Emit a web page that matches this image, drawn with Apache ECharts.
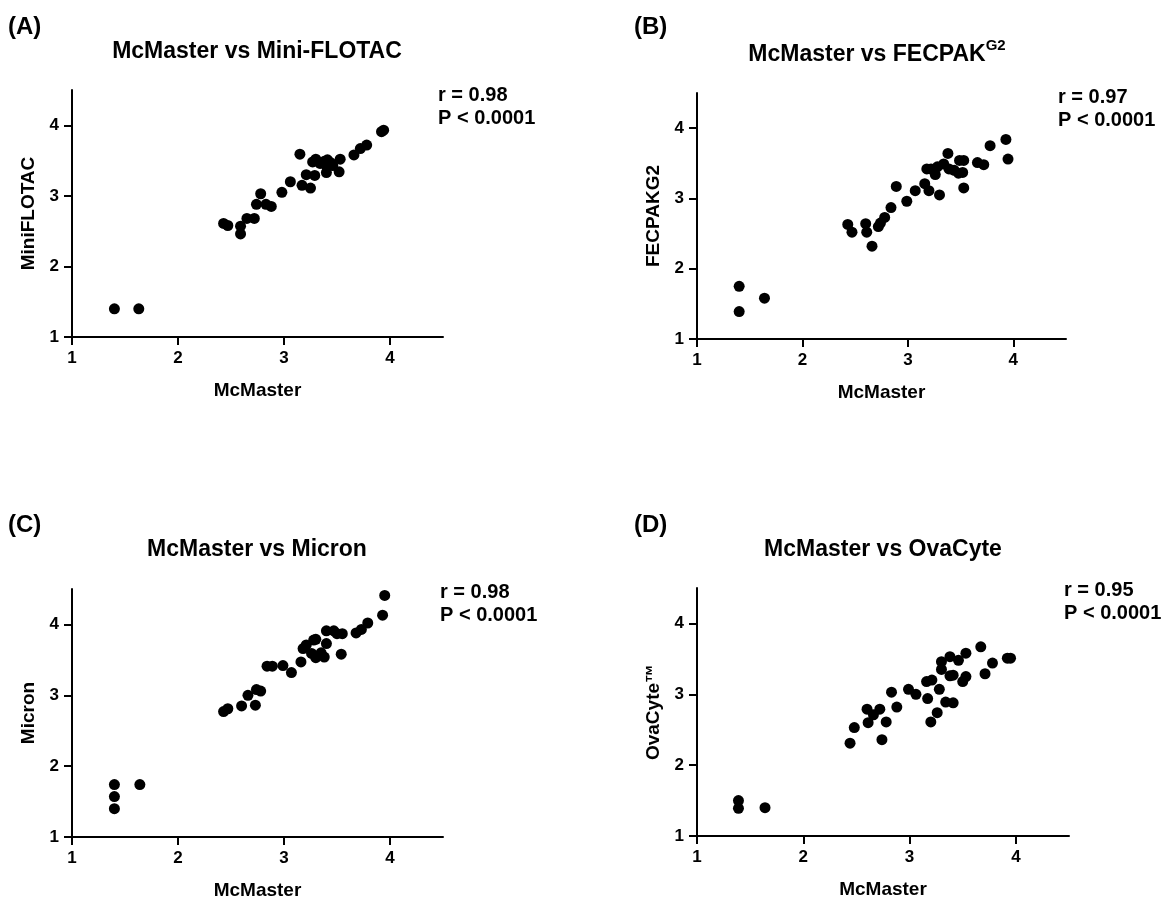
<!DOCTYPE html>
<html>
<head>
<meta charset="utf-8">
<script src="https://cdn.jsdelivr.net/npm/echarts@6/dist/echarts.min.js"></script>
<style>
html,body{margin:0;padding:0;background:#fff;}
#c{width:1164px;height:903px;}
</style>
</head>
<body>
<div id="c"></div>
<script>
// Panel A: McMaster vs Mini-FLOTAC
const aX = [1.40,1.63,2.43,2.47,2.59,2.59,2.65,2.72,2.74,2.78,2.83,2.88,2.98,3.06,3.15,3.17,3.21,3.25,3.29,3.27,3.30,3.38,3.41,3.40,3.40,3.46,3.52,3.53,3.66,3.72,3.78,3.92,3.94,3.34,3.44];
const aY = [1.40,1.40,2.61,2.58,2.57,2.46,2.68,2.68,2.88,3.03,2.88,2.85,3.05,3.20,3.59,3.15,3.30,3.11,3.29,3.48,3.52,3.49,3.51,3.42,3.33,3.43,3.34,3.52,3.58,3.67,3.72,3.91,3.93,3.46,3.47];
// Panel B: McMaster vs FECPAK G2
const bX = [1.40,1.40,1.64,2.43,2.47,2.60,2.61,2.66,2.72,2.74,2.78,2.84,2.89,2.99,3.07,3.16,3.20,3.18,3.22,3.26,3.30,3.28,3.34,3.38,3.39,3.44,3.48,3.49,3.53,3.52,3.53,3.66,3.72,3.78,3.93,3.95];
const bY = [1.75,1.39,1.58,2.63,2.52,2.64,2.52,2.32,2.60,2.65,2.73,2.87,3.17,2.96,3.11,3.21,3.11,3.42,3.42,3.34,3.05,3.45,3.49,3.64,3.42,3.40,3.36,3.54,3.54,3.37,3.15,3.51,3.48,3.75,3.84,3.56];
// Panel C: McMaster vs Micron
const cX = [1.40,1.40,1.40,1.64,2.43,2.47,2.60,2.66,2.73,2.74,2.78,2.84,2.89,2.99,3.07,3.16,3.18,3.21,3.26,3.30,3.28,3.30,3.35,3.38,3.40,3.40,3.47,3.50,3.55,3.54,3.68,3.73,3.79,3.93,3.95];
const cY = [1.74,1.57,1.40,1.74,2.77,2.81,2.85,3.00,2.86,3.08,3.06,3.41,3.41,3.42,3.32,3.47,3.66,3.71,3.59,3.53,3.78,3.79,3.60,3.54,3.73,3.91,3.91,3.87,3.87,3.58,3.88,3.93,4.02,4.13,4.41];
// Panel D: McMaster vs OvaCyte
const dX = [1.39,1.39,1.64,2.44,2.48,2.60,2.61,2.66,2.72,2.74,2.78,2.83,2.88,2.99,3.06,3.16,3.17,3.21,3.20,3.26,3.28,3.30,3.30,3.34,3.38,3.38,3.41,3.41,3.46,3.50,3.53,3.53,3.67,3.71,3.78,3.92,3.95];
const dY = [1.50,1.39,1.40,2.31,2.53,2.79,2.60,2.71,2.79,2.36,2.61,3.03,2.82,3.07,3.00,3.18,2.94,3.20,2.61,2.74,3.07,3.35,3.46,2.89,3.53,3.26,2.88,3.27,3.48,3.18,3.25,3.58,3.67,3.29,3.44,3.51,3.51];

const panelLetters = ['(A)','(B)','(C)','(D)'];
const yNames = ['MiniFLOTAC','FECPAKG2','Micron','OvaCyte\u2122'];
const xName = 'McMaster';
const rTexts = ['r = 0.98\nP < 0.0001','r = 0.97\nP < 0.0001','r = 0.98\nP < 0.0001','r = 0.95\nP < 0.0001'];
const tickValues = [1,2,3,4];

const FONT = 'Liberation Sans, Arial, sans-serif';
const grids = [
  {left:72, top:90, width:371, height:247},
  {left:697, top:93, width:369, height:246},
  {left:72, top:589, width:371, height:248},
  {left:697, top:588, width:372, height:248}
];
const data = [[aX,aY],[bX,bY],[cX,cY],[dX,dY]];

function axisCommon(){
  return {
    min:1, max:4.5, interval:1,
    axisLine:{show:true, onZero:false, lineStyle:{color:'#000', width:2}},
    axisTick:{show:true, length:8, customValues:tickValues, lineStyle:{color:'#000', width:2}},
    axisLabel:{customValues:tickValues, color:'#000', fontSize:17, fontWeight:'bold', fontFamily:FONT, margin:13},
    splitLine:{show:false},
    nameTextStyle:{color:'#000', fontSize:19, fontWeight:'bold', fontFamily:FONT}
  };
}

const xAxes = grids.map((g,i)=>Object.assign(axisCommon(),{gridIndex:i, type:'value', name:xName, nameLocation:'middle', nameGap:44}));
const yAxes = grids.map((g,i)=>Object.assign(axisCommon(),{gridIndex:i, type:'value', name:yNames[i], nameLocation:'middle', nameGap:34}));

const series = data.map((d,i)=>({
  type:'scatter', xAxisIndex:i, yAxisIndex:i,
  symbol:'circle', symbolSize:11,
  itemStyle:{color:'#000', opacity:1},
  data:d[0].map((x,k)=>[x,d[1][k]])
}));

const titleStyle = {color:'#000', fontSize:23, fontWeight:'bold', fontFamily:FONT};
const statStyle = {color:'#000', fontSize:20, fontWeight:'bold', fontFamily:FONT, lineHeight:23};
const letterStyle = {color:'#000', fontSize:24, fontWeight:'bold', fontFamily:FONT};

const titles = [
  {text:panelLetters[0], left:8, top:15, textStyle:letterStyle},
  {text:panelLetters[1], left:634, top:15, textStyle:letterStyle},
  {text:panelLetters[2], left:8, top:513, textStyle:letterStyle},
  {text:panelLetters[3], left:634, top:513, textStyle:letterStyle},
  {text:'McMaster vs Mini-FLOTAC', left:257, textAlign:'center', top:40, textStyle:titleStyle},
  {text:'{m|McMaster vs FECPAK}{s|G2}', left:877, textAlign:'center', top:38,
   textStyle:{color:'#000', fontFamily:FONT, rich:{
     m:{fontSize:23, fontWeight:'bold', fontFamily:FONT, color:'#000', verticalAlign:'bottom', lineHeight:28},
     s:{fontSize:15, fontWeight:'bold', fontFamily:FONT, color:'#000', verticalAlign:'top', lineHeight:15}
   }}},
  {text:'McMaster vs Micron', left:257, textAlign:'center', top:538, textStyle:titleStyle},
  {text:'McMaster vs OvaCyte', left:883, textAlign:'center', top:538, textStyle:titleStyle},
  {text:rTexts[0], left:438, top:84, textStyle:statStyle},
  {text:rTexts[1], left:1058, top:86, textStyle:statStyle},
  {text:rTexts[2], left:440, top:581, textStyle:statStyle},
  {text:rTexts[3], left:1064, top:579, textStyle:statStyle}
].map(t=>Object.assign({padding:0, itemGap:0}, t));

const chart = echarts.init(document.getElementById('c'), null, {renderer:'canvas'});
chart.setOption({
  backgroundColor:'#fff',
  animation:false,
  title:titles,
  grid:grids,
  xAxis:xAxes,
  yAxis:yAxes,
  series:series
});
</script>
</body>
</html>
